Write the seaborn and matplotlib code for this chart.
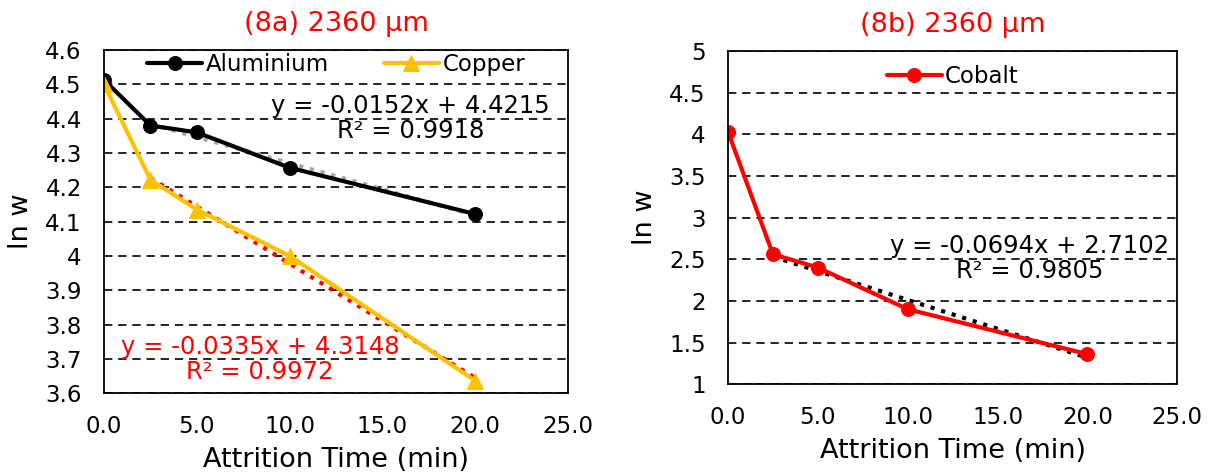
import numpy as np
import pandas as pd
import matplotlib
matplotlib.use("Agg")
import matplotlib.pyplot as plt
from matplotlib.ticker import FuncFormatter, MultipleLocator
import seaborn as sns

# data
time_min = [0.0, 2.5, 5.0, 10.0, 20.0]
aluminium = [4.513, 4.38, 4.36, 4.257, 4.122]
copper = [4.50, 4.222, 4.135, 4.0, 3.636]
cobalt = [4.03, 2.56, 2.40, 1.90, 1.36]

eq_al = "y = -0.0152x + 4.4215\nR² = 0.9918"
eq_cu = "y = -0.0335x + 4.3148\nR² = 0.9972"
eq_co = "y = -0.0694x + 2.7102\nR² = 0.9805"

title_a = "(8a) 2360 μm"
title_b = "(8b) 2360 μm"

sns.set_theme(style="white")
plt.rcParams["font.family"] = ["DejaVu Sans"]
plt.rcParams["text.color"] = "black"
plt.rcParams["axes.labelcolor"] = "black"
plt.rcParams["axes.edgecolor"] = "black"

FS = 16.5
EQ_FS = 17.5
LBL_FS = 19.5

df = pd.DataFrame({"t": time_min, "Aluminium": aluminium,
                   "Copper": copper, "Cobalt": cobalt})
fit = df[df["t"] > 0]

fig = plt.figure(figsize=(12.31, 4.72), dpi=100)
ax1 = fig.add_axes([0.0845, 0.167, 0.377, 0.727])
ax2 = fig.add_axes([0.5914, 0.186, 0.365, 0.706])


def style_axes(ax, ylo, yhi, ystep):
    ax.set_xlim(0, 25)
    ax.set_ylim(ylo, yhi)
    ax.xaxis.set_major_locator(MultipleLocator(5))
    ax.yaxis.set_major_locator(MultipleLocator(ystep))
    ax.xaxis.set_major_formatter(FuncFormatter(lambda v, p: f"{v:.1f}"))
    ax.yaxis.set_major_formatter(FuncFormatter(lambda v, p: f"{v:g}"))
    ax.tick_params(axis="x", length=0, pad=16, labelsize=FS, colors="black")
    ax.tick_params(axis="y", length=0, pad=16, labelsize=FS, colors="black")
    ax.yaxis.grid(True, color="black", ls=(0, (5, 3.5)), lw=1.2)
    ax.xaxis.grid(False)
    ax.set_axisbelow(True)
    ax.set_xlabel("Attrition Time (min)", fontsize=LBL_FS, labelpad=6)
    ax.set_ylabel("ln w", fontsize=LBL_FS, labelpad=8)
    for s in ax.spines.values():
        s.set_visible(True)
        s.set_color("black")
        s.set_linewidth(1.3)


# (8a) aluminium and copper
sns.regplot(data=fit, x="t", y="Aluminium", ax=ax1, ci=None, scatter=False,
            truncate=True, line_kws=dict(color="#A5A5A5", ls=":", lw=3))
sns.regplot(data=fit, x="t", y="Copper", ax=ax1, ci=None, scatter=False,
            truncate=True, line_kws=dict(color="red", ls=":", lw=3))
sns.lineplot(data=df, x="t", y="Aluminium", ax=ax1, color="black", lw=3,
             marker="o", markersize=10, markeredgecolor="black", label="Aluminium")
sns.lineplot(data=df, x="t", y="Copper", ax=ax1, color="#FFC000", lw=3,
             marker="^", markersize=11, markeredgecolor="#FFC000", label="Copper")
style_axes(ax1, 3.6, 4.6, 0.1)
ax1.text(16.5, 4.40, eq_al, ha="center", va="center", fontsize=EQ_FS,
         color="black", linespacing=1.05)
ax1.text(8.4, 3.697, eq_cu, ha="center", va="center", fontsize=EQ_FS,
         color="red", linespacing=1.05)
ax1.legend(loc="upper center", bbox_to_anchor=(0.5, 1.03), ncol=2, frameon=False,
           fontsize=FS, handlelength=2.4, handletextpad=0.15, columnspacing=2.4,
           borderaxespad=0.2)
ax1.set_title(title_a, color="red", fontsize=LBL_FS, pad=14)

# (8b) cobalt
sns.regplot(data=fit, x="t", y="Cobalt", ax=ax2, ci=None, scatter=False,
            truncate=True, line_kws=dict(color="black", ls=":", lw=3))
sns.lineplot(data=df, x="t", y="Cobalt", ax=ax2, color="red", lw=3,
             marker="o", markersize=10, markeredgecolor="red", label="Cobalt")
style_axes(ax2, 1, 5, 0.5)
ax2.text(16.8, 2.51, eq_co, ha="center", va="center", fontsize=EQ_FS,
         color="black", linespacing=1.05)
ax2.legend(loc="upper center", bbox_to_anchor=(0.5, 1.01), frameon=False,
           fontsize=FS, handlelength=2.4, handletextpad=0.15, borderaxespad=0.35)
ax2.set_title(title_b, color="red", fontsize=LBL_FS, pad=14)

fig.savefig("out.png", dpi=100)
